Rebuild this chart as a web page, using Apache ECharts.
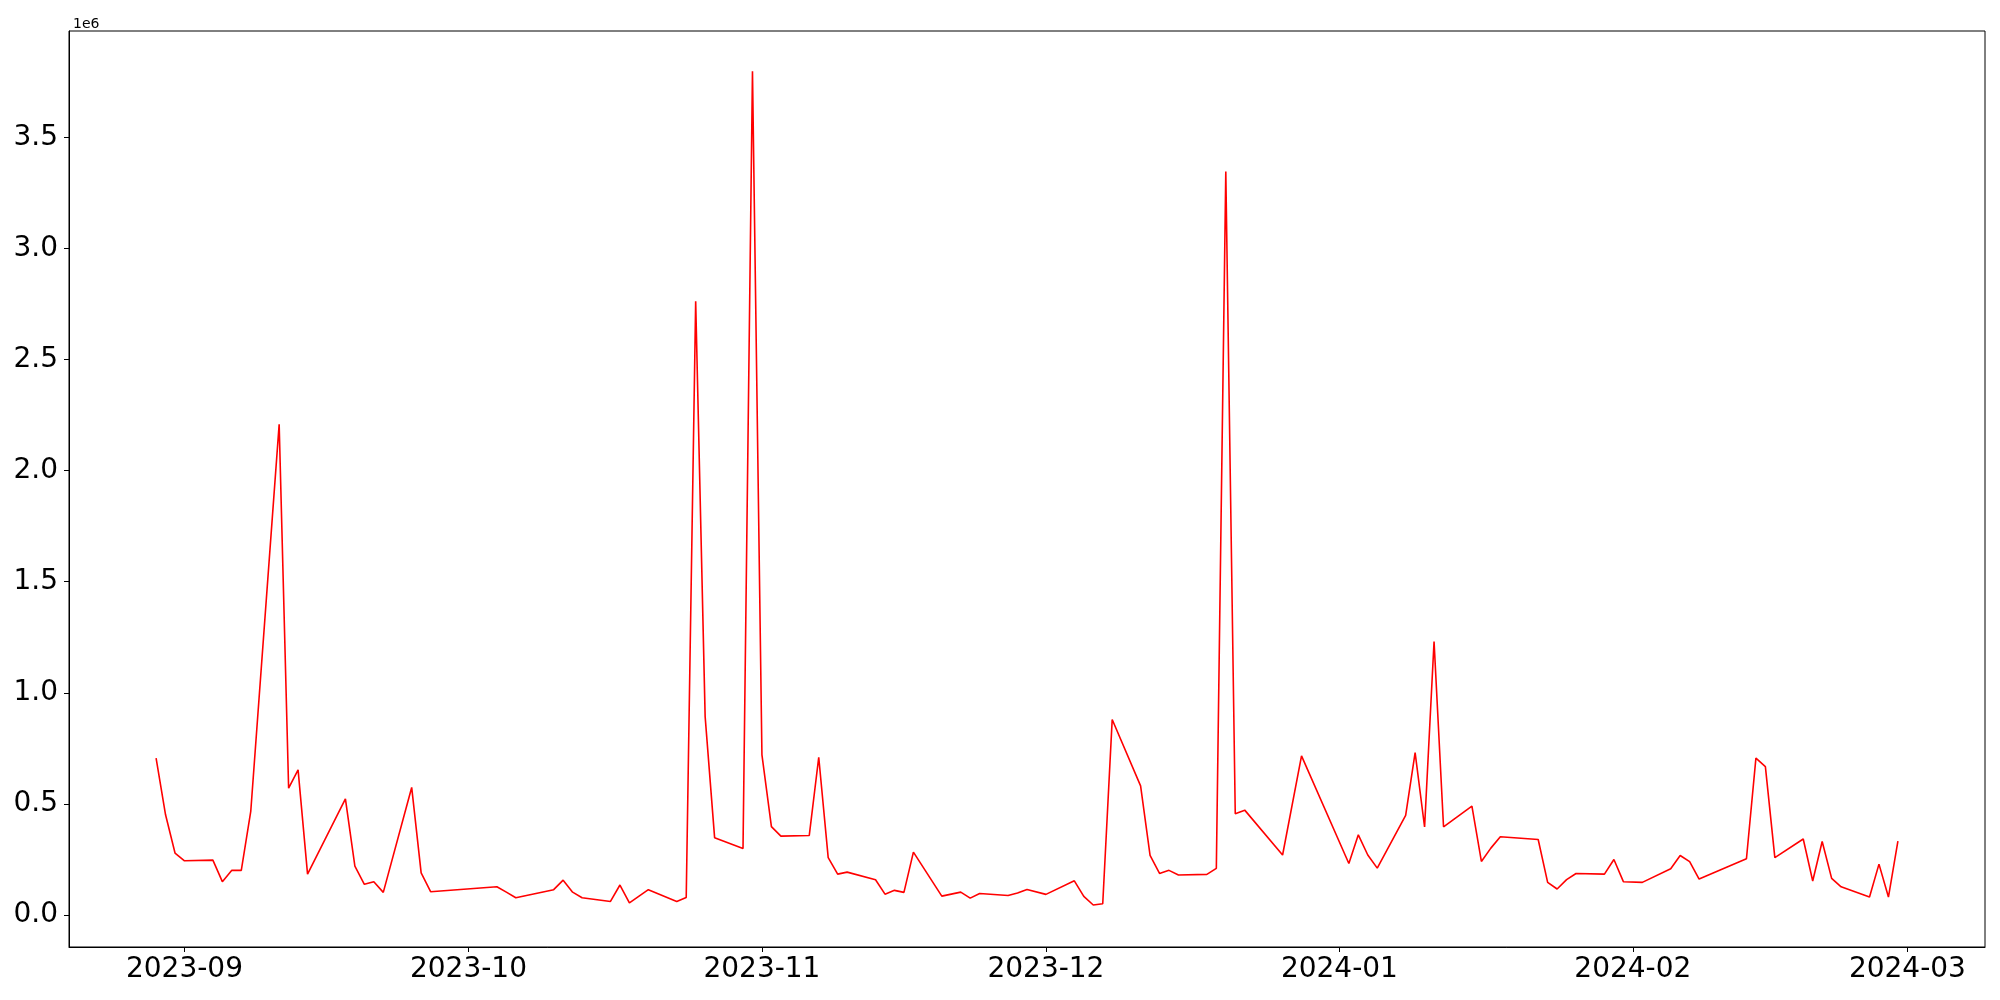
<!DOCTYPE html>
<html>
<head>
<meta charset="utf-8">
<script src="https://cdn.jsdelivr.net/npm/echarts@6/dist/echarts.min.js"></script>
<style>
html,body{margin:0;padding:0;background:#fff;}
#chart{width:2000px;height:1000px;}
</style>
</head>
<body>
<div id="chart"></div>
<script>
// ---- data (values in raw units; axis shows them scaled by 1e6) ----
const dates = [
 '2023-08-29','2023-08-30','2023-08-31','2023-09-01','2023-09-04','2023-09-05','2023-09-06','2023-09-07','2023-09-08',
 '2023-09-11','2023-09-12','2023-09-13','2023-09-14','2023-09-18','2023-09-19','2023-09-20','2023-09-21','2023-09-22',
 '2023-09-25','2023-09-26','2023-09-27','2023-10-04','2023-10-05','2023-10-06','2023-10-10','2023-10-11','2023-10-12',
 '2023-10-13','2023-10-16','2023-10-17','2023-10-18','2023-10-20','2023-10-23','2023-10-24','2023-10-25','2023-10-26',
 '2023-10-27','2023-10-30','2023-10-31','2023-11-01','2023-11-02','2023-11-03','2023-11-06','2023-11-07','2023-11-08',
 '2023-11-09','2023-11-10','2023-11-13','2023-11-14','2023-11-15','2023-11-16','2023-11-17','2023-11-20','2023-11-22',
 '2023-11-23','2023-11-24','2023-11-27','2023-11-28','2023-11-29','2023-12-01','2023-12-04','2023-12-05','2023-12-06',
 '2023-12-07','2023-12-08','2023-12-11','2023-12-12','2023-12-13','2023-12-14','2023-12-15','2023-12-18','2023-12-19',
 '2023-12-20','2023-12-21','2023-12-22','2023-12-26','2023-12-28','2024-01-02','2024-01-03','2024-01-04','2024-01-05',
 '2024-01-08','2024-01-09','2024-01-10','2024-01-11','2024-01-12','2024-01-15','2024-01-16','2024-01-17','2024-01-18',
 '2024-01-22','2024-01-23','2024-01-24','2024-01-25','2024-01-26','2024-01-29','2024-01-30','2024-01-31','2024-02-02',
 '2024-02-05','2024-02-06','2024-02-07','2024-02-08','2024-02-13','2024-02-14','2024-02-15','2024-02-16','2024-02-19',
 '2024-02-20','2024-02-21','2024-02-22','2024-02-23','2024-02-26','2024-02-27','2024-02-28','2024-02-29'
];
const values = [
 706000,451000,279000,244000,247000,150000,201000,201000,466000,
 2208000,571000,653000,184000,523000,220000,138000,150000,102000,
 574000,190000,105000,127000,103000,78000,114000,157000,103000,
 78000,61000,135000,55000,114000,61000,79000,2762000,893000,
 348000,299000,3797000,721000,398000,355000,358000,710000,258000,
 184000,193000,159000,94000,111000,102000,283000,85000,103000,
 76000,97000,88000,99000,115000,93000,154000,84000,45000,
 51000,880000,581000,268000,187000,201000,180000,183000,210000,
 3346000,456000,472000,270000,716000,232000,361000,270000,211000,
 448000,731000,396000,1231000,397000,490000,241000,301000,352000,
 340000,147000,117000,159000,187000,184000,250000,150000,147000,
 208000,268000,240000,162000,253000,706000,668000,258000,342000,
 153000,331000,165000,127000,81000,229000,81000,333000
];
const xTickLabels = ['2023-09','2023-10','2023-11','2023-12','2024-01','2024-02','2024-03'];
const yTicks = [0, 500000, 1000000, 1500000, 2000000, 2500000, 3000000, 3500000];

function toTs(s){
  const p = s.split('-').map(Number);
  return Date.UTC(p[0], p[1]-1, p[2] || 1);
}
const DAY = 86400000;
const seriesData = dates.map((d,i)=>[toTs(d), values[i]]);
const xTicks = xTickLabels.map(toTs);
const xMin = toTs(dates[0]) - 9.2*DAY;
const xMax = toTs(dates[dates.length-1]) + 9.2*DAY;

const chart = echarts.init(document.getElementById('chart'), null, {renderer:'canvas'});
const font = 'DejaVu Sans';
chart.setOption({
  animation:false,
  backgroundColor:'#fff',
  title:{
    text:'1e6', left:68, top:12,
    textStyle:{fontFamily:font, fontSize:14, fontWeight:'normal', color:'#000'}
  },
  grid:{
    left:69, right:15, top:31, bottom:53,
    show:true, borderColor:'#000', borderWidth:1, backgroundColor:'transparent',
    containLabel:false
  },
  xAxis:{
    type:'value', min:xMin, max:xMax, scale:true,
    axisLine:{show:true, onZero:false, lineStyle:{color:'#000', width:1}},
    axisTick:{show:true, length:5, inside:false, lineStyle:{color:'#000', width:1}, customValues:xTicks},
    axisLabel:{
      show:true, color:'#000', fontFamily:font, fontSize:28, margin:9,
      customValues:xTicks,
      formatter:function(v){
        const d=new Date(v);
        return d.getUTCFullYear()+'-'+String(d.getUTCMonth()+1).padStart(2,'0');
      }
    },
    splitLine:{show:false}
  },
  yAxis:{
    type:'value', min:-143900, max:3978000,
    axisLine:{show:true, lineStyle:{color:'#000', width:1}},
    axisTick:{show:true, length:5, inside:false, lineStyle:{color:'#000', width:1}, customValues:yTicks},
    axisLabel:{
      show:true, color:'#000', fontFamily:font, fontSize:28, margin:11,
      customValues:yTicks,
      formatter:function(v){ return (v/1e6).toFixed(1); }
    },
    splitLine:{show:false}
  },
  series:[{
    type:'line',
    data:seriesData,
    showSymbol:false,
    symbol:'none',
    lineStyle:{color:'#ff0000', width:1.6},
    itemStyle:{color:'#ff0000'}
  }]
});
</script>
</body>
</html>
